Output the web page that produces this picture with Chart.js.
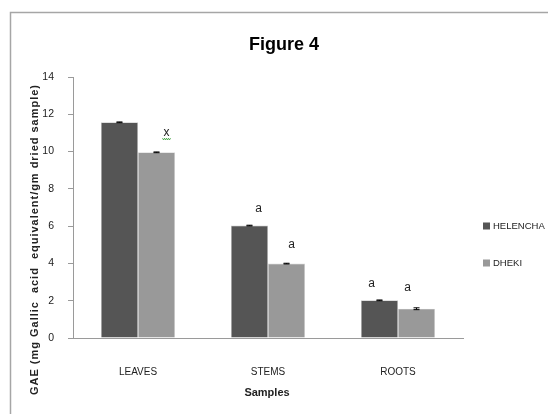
<!DOCTYPE html>
<html>
<head>
<meta charset="utf-8">
<script src="https://cdn.jsdelivr.net/npm/chart.js@4"></script>
<style>
  html, body { margin: 0; padding: 0; background: #ffffff; }
  #wrap { width: 548px; height: 414px; position: relative; }
</style>
</head>
<body>
<div id="wrap"><canvas id="chart" width="548" height="414"></canvas></div>
<script>
// Total phenolic content by plant part
const categories = ['LEAVES', 'STEMS', 'ROOTS'];
const seriesNames = ['HELENCHA', 'DHEKI'];
const helencha = [11.57, 6.03, 2.02];
const dheki = [9.96, 3.99, 1.57];
const helenchaErr = [0.02, 0.02, 0.02];
const dhekiErr = [0.02, 0.02, 0.05];
// significance letters written above each bar ('' = none)
const helenchaMarks = ['', 'a', 'a'];
const dhekiMarks = ['x', 'a', 'a'];
const yTicks = { min: 0, max: 14, step: 2 };

const chartTitle = 'Figure 4';
const yTitle = 'GAE (mg Gallic  acid  equivalent/gm dried sample)';
const xTitle = 'Samples';

const colors = ['#555555', '#999999'];
const FONT = '"Liberation Sans", Arial, sans-serif';

// small pixel nudges for the hand-placed letters, [dataset][category]
const markNudge = [
  [[0, 0], [9, -17], [-8, -17]],
  [[10, -20], [5, -19], [-9, -21]]
];

const decorations = {
  id: 'decorations',
  beforeDraw(chart) {
    const ctx = chart.ctx;
    ctx.save();
    ctx.fillStyle = '#ffffff';
    ctx.fillRect(0, 0, chart.width, chart.height);
    // outer frame (left and top edges visible)
    ctx.strokeStyle = '#a6a6a6';
    ctx.lineWidth = 1.5;
    ctx.beginPath();
    ctx.rect(10.5, 12.5, 600, 500);
    ctx.stroke();
    ctx.restore();
  },
  afterDatasetsDraw(chart) {
    const ctx = chart.ctx;
    const y = chart.scales.y;
    const errs = [helenchaErr, dhekiErr];
    const marks = [helenchaMarks, dhekiMarks];
    ctx.save();
    chart.data.datasets.forEach((ds, di) => {
      const meta = chart.getDatasetMeta(di);
      meta.data.forEach((bar, i) => {
        const v = ds.data[i];
        const e = errs[di][i];
        const yHi = y.getPixelForValue(v + e);
        const yLo = y.getPixelForValue(v - e);
        ctx.strokeStyle = '#000000';
        ctx.lineWidth = 1;
        ctx.beginPath();
        ctx.moveTo(bar.x, yHi); ctx.lineTo(bar.x, yLo);
        ctx.moveTo(bar.x - 3, yHi); ctx.lineTo(bar.x + 3, yHi);
        ctx.moveTo(bar.x - 3, yLo); ctx.lineTo(bar.x + 3, yLo);
        ctx.stroke();

        const m = marks[di][i];
        if (m) {
          const [dx, dy] = markNudge[di][i];
          const tx = bar.x + dx;
          const ty = y.getPixelForValue(v) + dy;
          ctx.fillStyle = '#222222';
          ctx.font = '12px ' + FONT;
          ctx.textAlign = 'center';
          ctx.textBaseline = 'middle';
          ctx.fillText(m, tx, ty);
          if (m === 'x') {
            // proofing squiggle under the letter
            ctx.strokeStyle = '#3aa03a';
            ctx.lineWidth = 1;
            ctx.beginPath();
            const sy = ty + 6;
            for (let k = 0; k <= 8; k++) {
              const px = tx - 4 + k;
              const py = sy + (k % 2 === 0 ? 0 : 1.5);
              if (k === 0) ctx.moveTo(px, py); else ctx.lineTo(px, py);
            }
            ctx.stroke();
          }
        }
      });
    });
    ctx.restore();
  },
  afterDraw(chart) {
    const ctx = chart.ctx;
    ctx.save();
    // chart title
    ctx.fillStyle = '#000000';
    ctx.textAlign = 'center';
    ctx.textBaseline = 'middle';
    ctx.font = 'bold 18px ' + FONT;
    ctx.fillText(chartTitle, 284, 45);
    // x axis title
    ctx.font = 'bold 11px ' + FONT;
    ctx.fillStyle = '#222222';
    ctx.fillText(xTitle, 267, 393);
    // y axis title, spaced out to run the full height of the frame
    ctx.save();
    ctx.translate(35, 240);
    ctx.rotate(-Math.PI / 2);
    const natural = ctx.measureText(yTitle).width;
    const spacing = Math.max(0, (310 - natural) / (yTitle.length - 1));
    if ('letterSpacing' in ctx) {
      ctx.letterSpacing = spacing.toFixed(2) + 'px';
      ctx.fillText(yTitle, spacing / 2, 0);
    } else {
      ctx.fillText(yTitle, 0, 0);
    }
    ctx.restore();
    // legend
    ctx.textAlign = 'left';
    ctx.font = '9.5px ' + FONT;
    const legendY = [226, 263];
    seriesNames.forEach((name, i) => {
      ctx.fillStyle = colors[i];
      ctx.fillRect(483, legendY[i] - 3.5, 7, 7);
      ctx.fillStyle = '#222222';
      ctx.fillText(name, 493, legendY[i] + 0.5);
    });
    ctx.restore();
  }
};

new Chart(document.getElementById('chart'), {
  type: 'bar',
  data: {
    labels: categories,
    datasets: [
      { label: seriesNames[0], data: helencha, backgroundColor: colors[0],
        borderColor: '#c8c8c8', borderWidth: 0.6,
        categoryPercentage: 0.57, barPercentage: 1.0 },
      { label: seriesNames[1], data: dheki, backgroundColor: colors[1],
        borderColor: '#d8d8d8', borderWidth: 0.6,
        categoryPercentage: 0.57, barPercentage: 1.0 }
    ]
  },
  options: {
    responsive: false,
    animation: false,
    devicePixelRatio: 1,
    layout: { padding: { left: 0, right: 85, top: 77, bottom: 0 } },
    plugins: {
      legend: { display: false },
      title: { display: false },
      tooltip: { enabled: false }
    },
    scales: {
      x: {
        grid: { display: false },
        border: { display: true, color: '#9a9a9a', width: 1 },
        ticks: { color: '#222222', font: { family: FONT, size: 10 }, padding: 20 },
        afterFit(scale) { scale.height = 76; }
      },
      y: {
        min: yTicks.min,
        max: yTicks.max,
        ticks: { stepSize: yTicks.step, color: '#222222',
                 font: { family: FONT, size: 10.5 }, padding: 14 },
        grid: { display: true, drawOnChartArea: false, drawTicks: true,
                tickLength: 5, color: '#9a9a9a' },
        border: { display: true, color: '#9a9a9a', width: 1 },
        afterFit(scale) { scale.width = 73; }
      }
    }
  },
  plugins: [decorations]
});
</script>
</body>
</html>
